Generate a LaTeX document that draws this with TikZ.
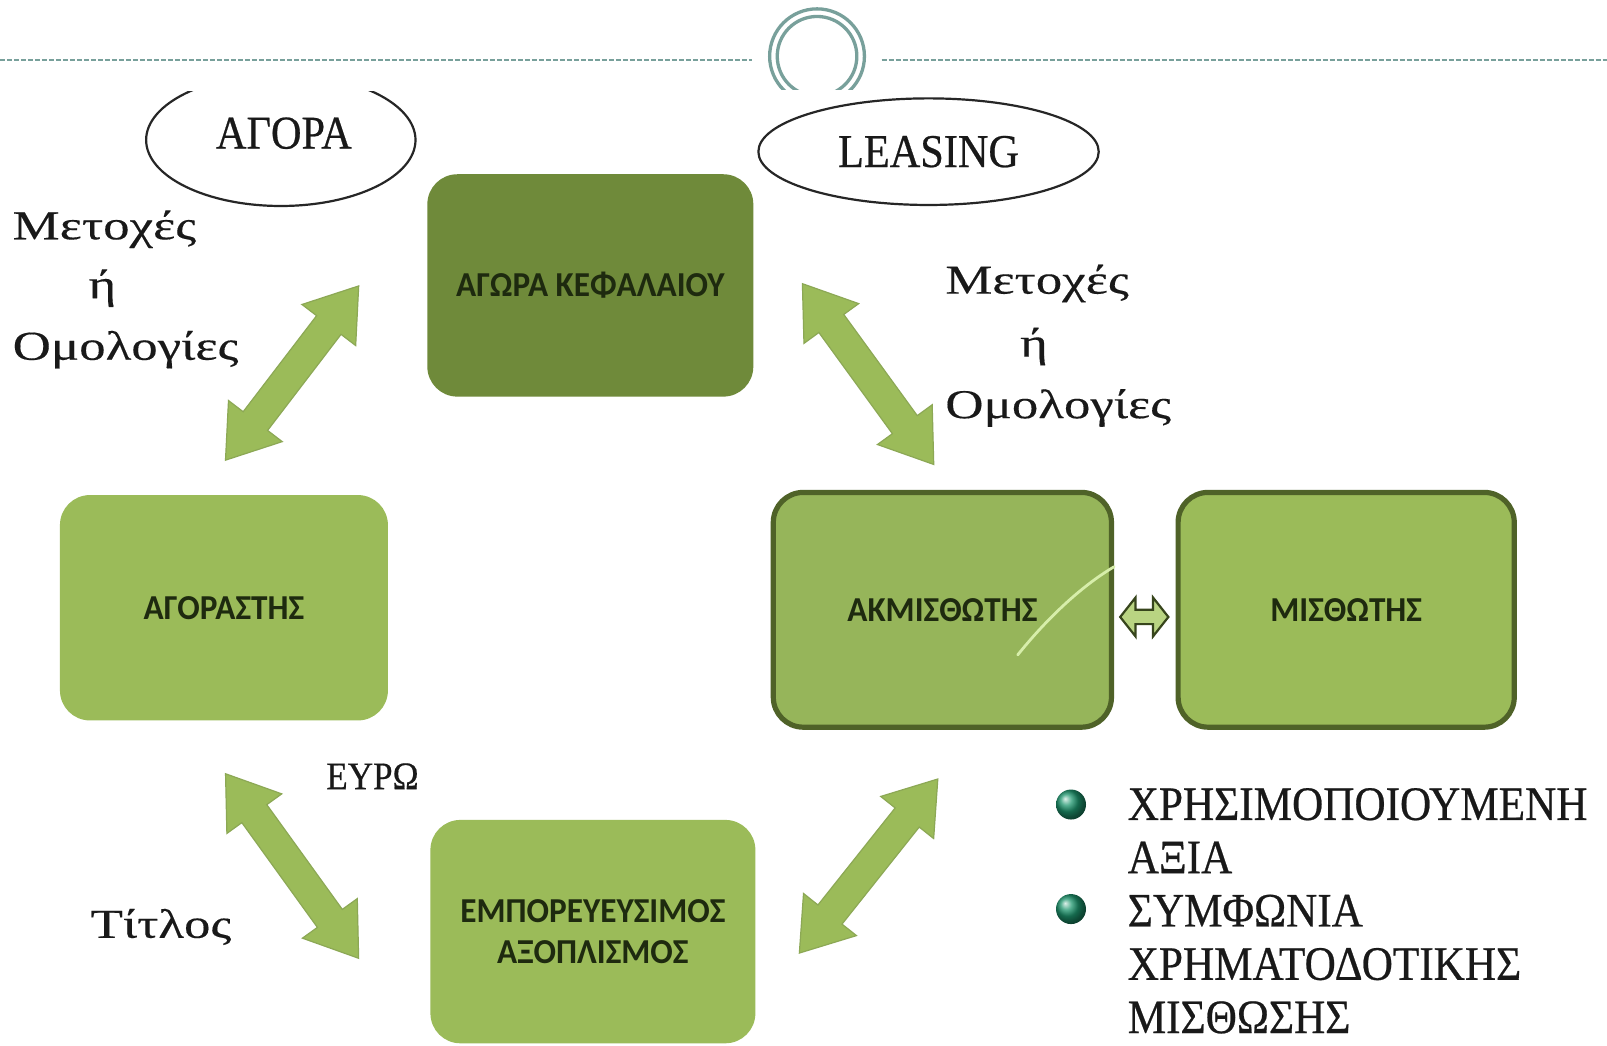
\documentclass[tikz,border=0pt]{standalone}
\usepackage{fontspec}
\setmainfont{Liberation Serif}
\newfontfamily\capserif[FakeStretch=0.9,FakeBold=0.5]{Liberation Serif}
\newfontfamily\wideserif[FakeStretch=1.29,FakeBold=0.3]{Liberation Serif}
\newfontfamily\boxfont[FakeStretch=0.95]{Carlito}
\usetikzlibrary{shapes.geometric}
\definecolor{dashc}{RGB}{120,160,155}
\definecolor{darkbox}{RGB}{111,138,58}
\definecolor{lightbox}{RGB}{155,187,89}
\definecolor{midbox}{RGB}{150,181,90}
\definecolor{boxborder}{RGB}{79,98,40}
\definecolor{arrowc}{RGB}{155,187,89}
\definecolor{arrowedge}{RGB}{140,168,85}
\definecolor{boxtext}{RGB}{30,42,15}
\definecolor{bulletc}{RGB}{30,150,110}
\definecolor{inktext}{RGB}{25,25,25}
\definecolor{smallarr}{RGB}{185,212,130}
\definecolor{glint}{RGB}{215,238,170}
% double arrow: centre x, centre y, angle, length
\newcommand\DArr[4]{%
  \filldraw[bigarrow, shift={(#1,#2)}, rotate=#3]
    ({-(#4)/2},0) -- ({-(#4)/2+48},33) -- ({-(#4)/2+48},15) -- ({(#4)/2-48},15)
    -- ({(#4)/2-48},33) -- ({(#4)/2},0) -- ({(#4)/2-48},-33) -- ({(#4)/2-48},-15)
    -- ({-(#4)/2+48},-15) -- ({-(#4)/2+48},-33) -- cycle;}
\begin{document}
\begin{tikzpicture}[x=0.5125pt,y=-0.5125pt,
  box/.style={rectangle, rounded corners=15pt, inner sep=0pt, align=center,
    font=\boxfont\bfseries\fontsize{17.5}{20.5}\selectfont, text=boxtext},
  bigarrow/.style={fill=arrowc, draw=arrowedge, line width=0.6pt, line join=miter},
  ring/.style={draw=dashc, line width=1.65pt},
  ell/.style={ellipse, draw=black!85, line width=1.1pt, inner sep=0pt, text=inktext,
    font=\capserif\fontsize{23.5}{26}\selectfont},
  greek/.style={anchor=base west, inner sep=0pt, text=inktext,
    font=\wideserif\fontsize{20.5}{24}\selectfont},
  caps/.style={anchor=base west, inner sep=0pt, text=inktext,
    font=\capserif\fontsize{24}{27}\selectfont},
  bullet/.style={circle, inner sep=0pt, minimum size=15pt, ball color=bulletc}]
\useasboundingbox (0,0) rectangle (1568,1020);
\fill[white] (0,0) rectangle (1568,1020);

% header line and ring
\draw[dashc, line width=1pt, dash pattern=on 2.5pt off 1pt] (0,58.5) -- (733.5,58.5);
\draw[dashc, line width=1pt, dash pattern=on 2.5pt off 1pt] (860.3,58.5) -- (1568,58.5);
\begin{scope}
  \clip (700,0) rectangle (900,87);
  \draw[ring] (797.2,54.9) circle[radius=23.7pt];
  \draw[ring] (797.2,54.9) circle[radius=19.9pt];
\end{scope}

% ellipses
\begin{scope}
  \clip (0,89.5) rectangle (700,300);
  \node[ell, minimum width=134.7pt, minimum height=66pt] (agora) at (274,136.6) {};
\end{scope}
\node[inner sep=0pt, text=inktext, font=\capserif\fontsize{23.5}{26}\selectfont] (agoratxt) at (277,130) {ΑΓΟΡΑ};
\node[ell, minimum width=170.2pt, minimum height=53.3pt] (leasing) at (906,148) {LEASING};

% boxes
\node[box, fill=darkbox, minimum width=163pt, minimum height=111.2pt] (kef) at (576,278.5) {ΑΓΩΡΑ ΚΕΦΑΛΑΙΟΥ};
\node[box, fill=lightbox, minimum width=164pt, minimum height=112.7pt] (agor) at (218.5,593) {ΑΓΟΡΑΣΤΗΣ};
\node[box, fill=midbox, draw=boxborder, line width=2.6pt, minimum width=169.1pt, minimum height=117.4pt] (akm) at (919.5,595) {ΑΚΜΙΣΘΩΤΗΣ};
\node[box, fill=lightbox, draw=boxborder, line width=2.6pt, minimum width=168.1pt, minimum height=117.4pt] (mis) at (1313.5,595) {ΜΙΣΘΩΤΗΣ};
\node[box, fill=lightbox, minimum width=162.5pt, minimum height=111.7pt] (emp) at (578.5,909) {ΕΜΠΟΡΕΥΕΥΣΙΜΟΣ\\ΑΞΟΠΛΙΣΜΟΣ};

% glint on ΑΚΜΙΣΘΩΤΗΣ
\draw[glint, line width=1.4pt, line cap=round] (993,639) .. controls (1022,603) and (1055,572) .. (akm.east |- 0,553);

% big double arrows
\DArr{285}{364}{52.6}{214}
\DArr{847}{365}{-54.0}{218}
\DArr{285}{845}{-54.2}{222}
\DArr{847.5}{845}{51.5}{217}

% small double arrow between the lessor and lessee
\filldraw[fill=smallarr, draw=boxborder!70!black, line width=1.1pt, line join=miter]
  (1093,602) -- (1108,583) -- (1108,595) -- (1125,595) -- (1125,583) -- (1140,602)
  -- (1125,621) -- (1125,609) -- (1108,609) -- (1108,621) -- cycle;

% texts on the left
\node[greek] (m1) at (12,233.5) {Μετοχές};
\node[greek] (h1) at (86,291) {ή};
\node[greek] (o1) at (12,351) {Ομολογίες};
% texts on the right
\node[greek] (m2) at (922,286.5) {Μετοχές};
\node[greek] (h2) at (995,348) {ή};
\node[greek] (o2) at (922,408) {Ομολογίες};

\node[anchor=base west, inner sep=0pt, text=inktext, font=\capserif\fontsize{19.5}{22}\selectfont] (euro) at (318,770) {ΕΥΡΩ};
\node[greek] (titlos) at (88,915) {Τίτλος};

% bullets
\node[bullet] (b1) at (1045,785) {};
\node[bullet] (b2) at (1045,887) {};
\node[caps] (t1) at (1100,800) {ΧΡΗΣΙΜΟΠΟΙΟΥΜΕΝΗ};
\node[caps] (t2) at (1100,852) {ΑΞΙΑ};
\node[caps] (t3) at (1100,904) {ΣΥΜΦΩΝΙΑ};
\node[caps] (t4) at (1100,956) {ΧΡΗΜΑΤΟΔΟΤΙΚΗΣ};
\node[caps] (t5) at (1100,1008) {ΜΙΣΘΩΣΗΣ};
\end{tikzpicture}
\end{document}
